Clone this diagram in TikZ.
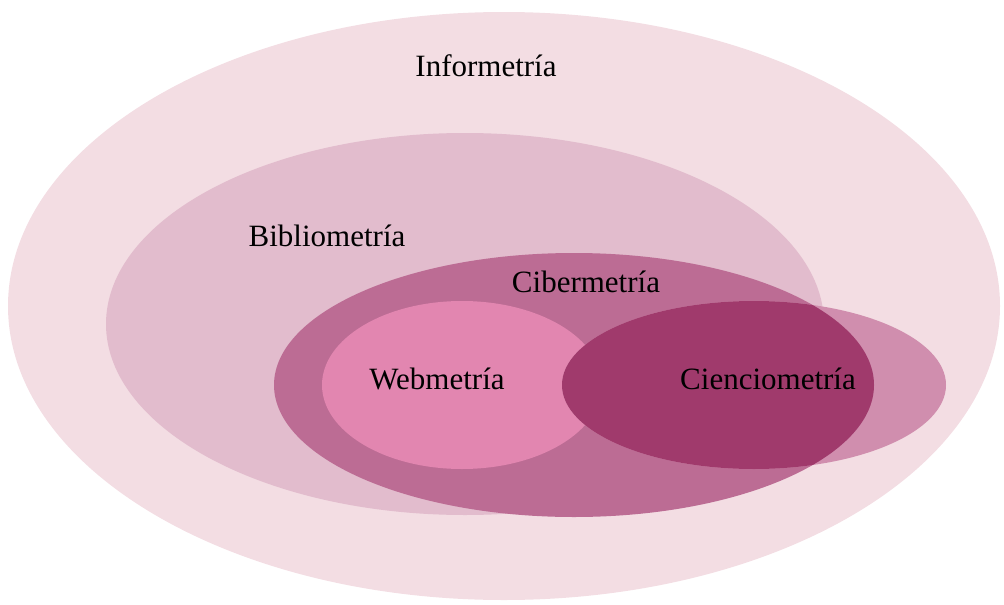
\documentclass[tikz,border=0pt]{standalone}
\usepackage{fontspec}
\setmainfont{Liberation Serif}
\definecolor{infoC}{RGB}{243,221,227}
\definecolor{biblioC}{RGB}{226,188,205}
\definecolor{ciberC}{RGB}{188,108,148}
\definecolor{webC}{RGB}{226,134,176}
\definecolor{ciencDark}{RGB}{160,58,108}
\definecolor{ciencLight}{RGB}{208,142,174}
\tikzset{lbl/.style={anchor=base,inner sep=0pt,font=\fontsize{31}{36}\selectfont,text=black}}
\begin{document}
\begin{tikzpicture}[x=1pt,y=-1pt]
\useasboundingbox (0,0) rectangle (1004,605);
% Informetria
\fill[infoC] (504,306) ellipse [x radius=496, y radius=294];
% Bibliometria
\fill[biblioC] (465,324) ellipse [x radius=359, y radius=191];
% Cibermetria
\fill[ciberC] (574,385) ellipse [x radius=300, y radius=132];
% Webmetria
\fill[webC] (462,385) ellipse [x radius=140, y radius=84];
% Cienciometria
\fill[ciencLight] (754,385) ellipse [x radius=192, y radius=84];
\begin{scope}
\clip (574,385) ellipse [x radius=300, y radius=132];
\fill[ciencDark] (754,385) ellipse [x radius=192, y radius=84];
\end{scope}
\node[lbl] (info) at (486,76) {Informetría};
\node[lbl] (biblio) at (327,246) {Bibliometría};
\node[lbl] (ciber) at (586,292) {Cibermetría};
\node[lbl] (web) at (437,389) {Webmetría};
\node[lbl] (cienc) at (768,389) {Cienciometría};
\end{tikzpicture}
\end{document}
